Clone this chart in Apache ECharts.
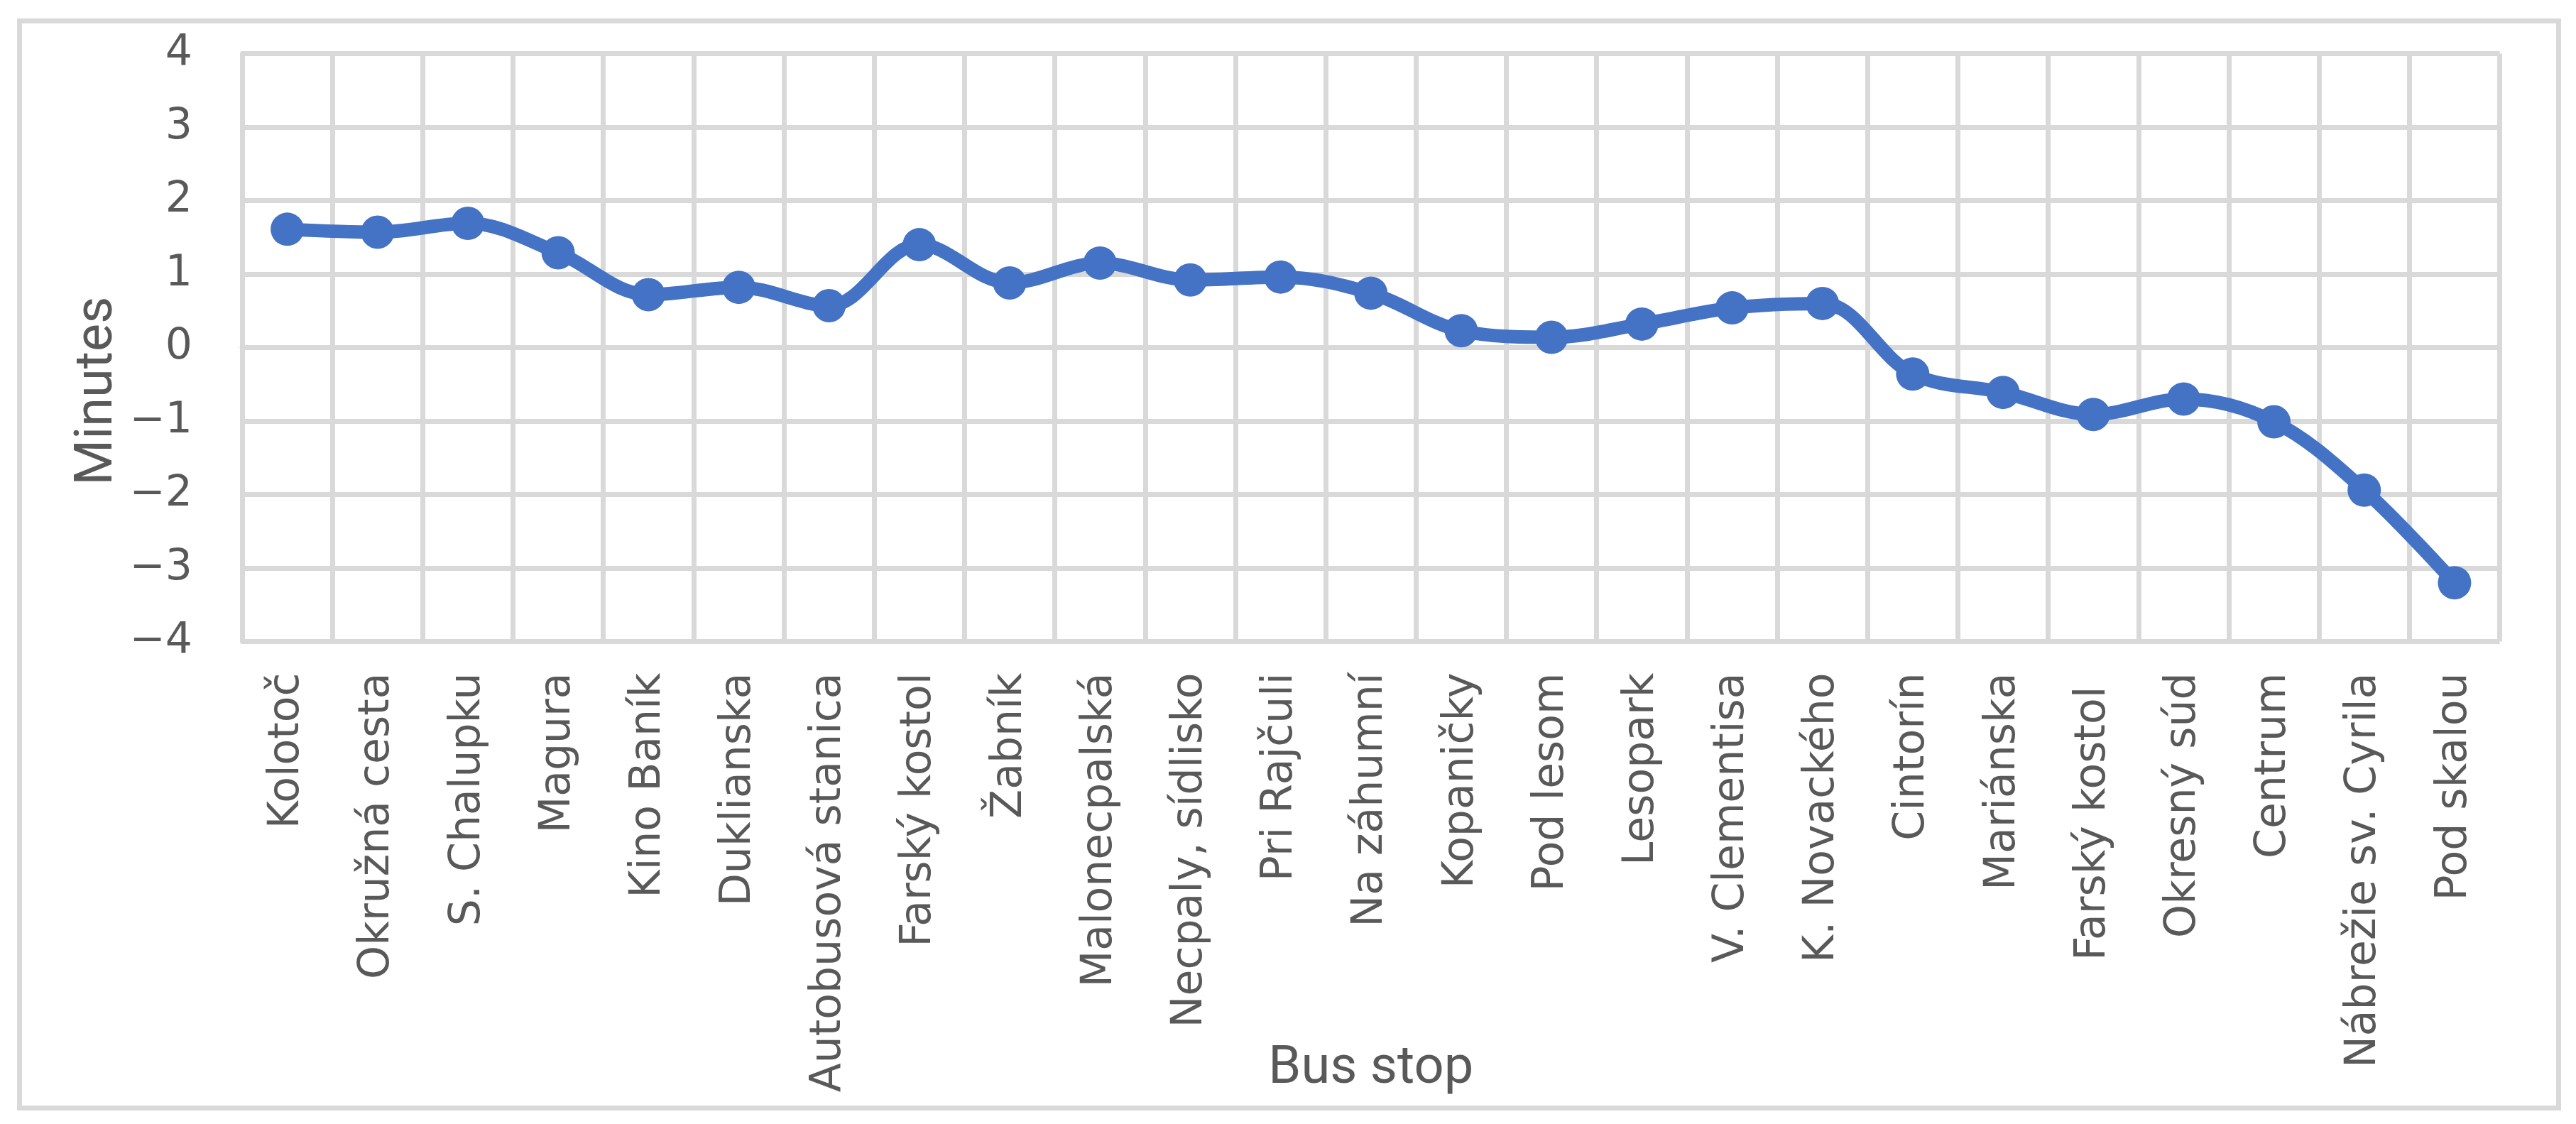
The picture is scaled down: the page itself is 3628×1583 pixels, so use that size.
<!DOCTYPE html>
<html>
<head>
<meta charset="utf-8">
<script src="https://cdn.jsdelivr.net/npm/echarts@6/dist/echarts.min.js"></script>
<style>
html,body{margin:0;padding:0;background:#fff;}
#chart{width:3628px;height:1583px;}
</style>
</head>
<body>
<div id="chart"></div>
<script>
const busStops = ["Kolotoč","Okružná cesta","S. Chalupku","Magura","Kino Baník","Duklianska","Autobusová stanica","Farský kostol","Žabník","Malonecpalská","Necpaly, sídlisko","Pri Rajčuli","Na záhumní","Kopaničky","Pod lesom","Lesopark","V. Clementisa","K. Novackého","Cintorín","Mariánska","Farský kostol ","Okresný súd","Centrum","Nábrežie sv. Cyrila","Pod skalou"];
const minutes = [1.61,1.57,1.69,1.29,0.72,0.82,0.57,1.40,0.88,1.15,0.92,0.96,0.74,0.23,0.14,0.32,0.54,0.60,-0.36,-0.61,-0.91,-0.70,-1.01,-1.94,-3.20];
const yMin = -4, yMax = 4, yStep = 1;
const xTitle = "Bus stop";
const yTitle = "Minutes";

const gridColor = '#d9d9d9';
const textColor = '#595959';
const chart = echarts.init(document.getElementById('chart'), null, {renderer:'canvas'});
chart.setOption({
  backgroundColor:'#ffffff',
  animation:false,
  graphic:[{
    type:'rect', silent:true, z:-1,
    shape:{x:27.5,y:29.5,width:3576,height:1531},
    style:{fill:null,stroke:gridColor,lineWidth:7}
  }],
  grid:{left:341,right:107.5,top:75.5,bottom:679.5,containLabel:false,outerBoundsMode:'none'},
  xAxis:{
    type:'category',
    data:busStops,
    boundaryGap:true,
    axisLine:{show:true,lineStyle:{color:gridColor,width:7}},
    axisTick:{show:false},
    splitLine:{show:true,lineStyle:{color:gridColor,width:7}},
    axisLabel:{interval:0,rotate:90,margin:44,fontSize:60,color:textColor,fontFamily:'DejaVu Sans'},
    name:xTitle,
    nameLocation:'middle',
    nameGap:566,
    nameMoveOverlap:false,
    nameTextStyle:{fontSize:74,color:textColor,fontFamily:'Roboto'}
  },
  yAxis:{
    type:'value',
    min:yMin,max:yMax,interval:yStep,
    axisLine:{show:true,lineStyle:{color:gridColor,width:7}},
    axisTick:{show:false},
    splitLine:{show:true,lineStyle:{color:gridColor,width:7}},
    axisLabel:{margin:70,fontSize:60,color:textColor,fontFamily:'DejaVu Sans',
      formatter:function(v){return String(v).replace('-','\u2212');}},
    name:yTitle,
    nameLocation:'middle',
    nameRotate:90,
    nameGap:166,
    nameMoveOverlap:false,
    nameTextStyle:{fontSize:74,color:textColor,fontFamily:'Roboto',padding:[0,122,0,0]}
  },
  series:[{
    type:'line',
    data:minutes,
    smooth:0.35,
    symbol:'circle',
    symbolSize:47,
    lineStyle:{color:'#4472C4',width:19},
    itemStyle:{color:'#4472C4'}
  }]
});
</script>
</body>
</html>
